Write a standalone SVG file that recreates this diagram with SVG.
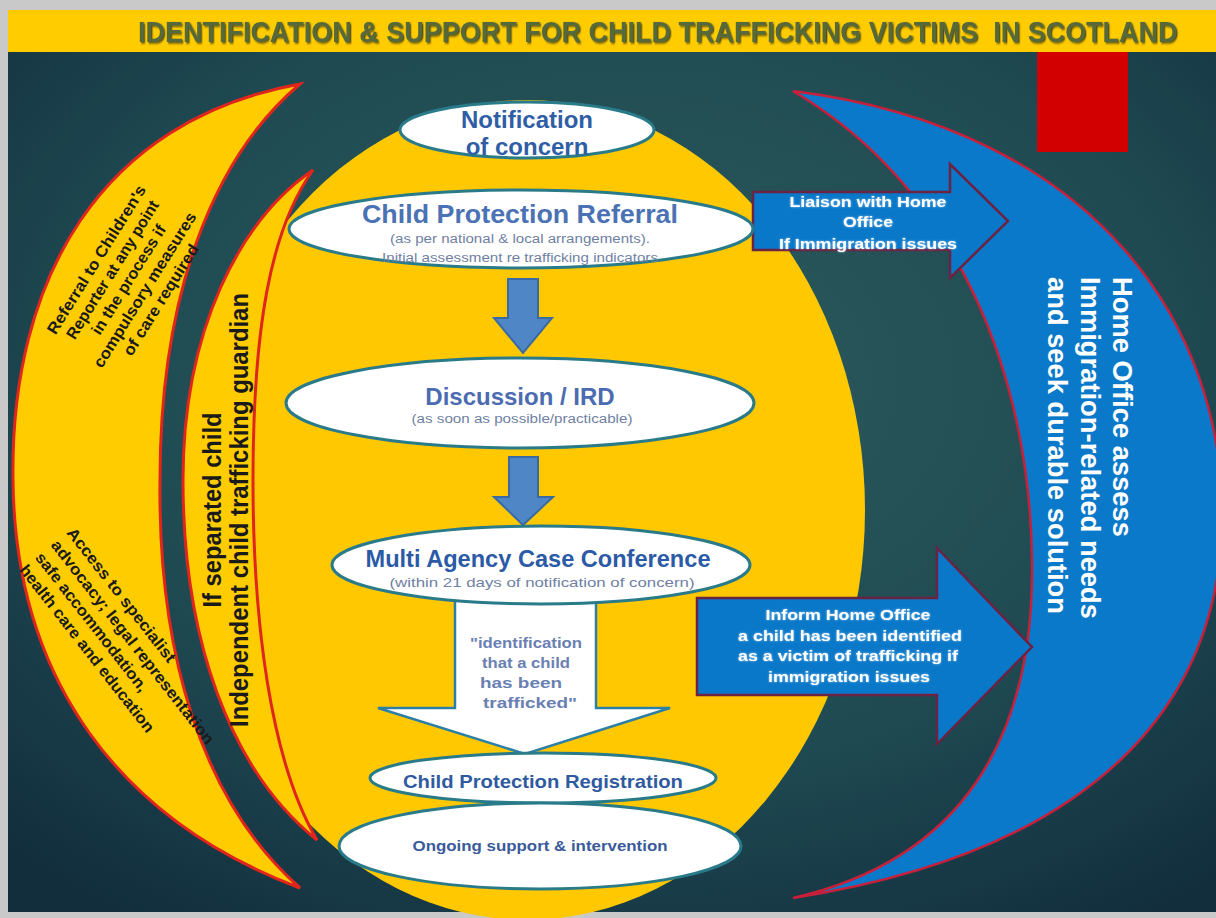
<svg xmlns="http://www.w3.org/2000/svg" width="1216" height="918" viewBox="0 0 1216 918">
<defs>
<radialGradient id="bg" cx="0.52" cy="0.38" r="0.75">
<stop offset="0" stop-color="#2b5b5c"/>
<stop offset="0.6" stop-color="#1f4a52"/>
<stop offset="1" stop-color="#122e3d"/>
</radialGradient>
<filter id="tsh" x="-5%" y="-30%" width="110%" height="160%">
<feDropShadow dx="1.5" dy="1.5" stdDeviation="0.8" flood-color="#2a3318" flood-opacity="0.8"/>
</filter>
<filter id="glow" x="-10%" y="-30%" width="120%" height="160%">
<feDropShadow dx="0" dy="0" stdDeviation="1" flood-color="#cfe6ff" flood-opacity="0.7"/>
</filter>
<style>
.title{font-family:"Liberation Sans",Arial,sans-serif;font-weight:bold;font-size:30px;fill:#56693a}
.node{fill:#ffffff;stroke:#2a7b8a;stroke-width:3}
.crescent{fill:#ffcc00;stroke:#e0261c;stroke-width:3}
.bluecres{fill:#0b79c9;stroke:#c8203a;stroke-width:2.5}
.bigarrow{fill:#0a78c8;stroke:#6a2342;stroke-width:2.5}
.smallarrow{fill:#4f86c6;stroke:#3a6aa3;stroke-width:2}
.whitearrow{fill:#ffffff;stroke:#2c7fa6;stroke-width:2.5}
.h{font-family:"Liberation Sans",Arial,sans-serif;font-weight:bold;text-anchor:middle}
.s{font-family:"Liberation Sans",Arial,sans-serif;text-anchor:middle;fill:#6f7fa3}
.w{font-family:"Liberation Sans",Arial,sans-serif;font-weight:bold;fill:#ffffff}
.k{font-family:"Liberation Sans",Arial,sans-serif;font-weight:bold;fill:#1a1a1a}
</style>
</defs>

<!-- frame -->
<rect x="0" y="0" width="1216" height="918" fill="#c9c9c9"/>
<rect x="8" y="52" width="1208" height="860" fill="url(#bg)"/>
<rect x="8" y="10" width="1208" height="42" fill="#ffcc00"/>
<text class="title" transform="translate(138,42) scale(0.89,1)" x="0" y="0" textLength="1168" lengthAdjust="spacingAndGlyphs" filter="url(#tsh)">IDENTIFICATION &amp; SUPPORT FOR CHILD TRAFFICKING VICTIMS&#160; IN SCOTLAND</text>

<!-- central yellow disc -->
<ellipse cx="527" cy="510" rx="338" ry="410" fill="#ffc800"/>

<!-- left crescents -->
<g id="reporter-crescent">
<path class="crescent" d="M300,84 C100,120 10,280 13,480 C15,680 120,820 300,888 C200,800 158,650 160,480 C160,300 210,160 300,84 Z"/>
<g transform="translate(129,280) rotate(-58)">
<text class="k" text-anchor="middle" x="0" y="-33" font-size="16" textLength="172" lengthAdjust="spacingAndGlyphs">Referral to Children's</text>
<text class="k" text-anchor="middle" x="0" y="-14" font-size="16" textLength="160" lengthAdjust="spacingAndGlyphs">Reporter at any point</text>
<text class="k" text-anchor="middle" x="0" y="5" font-size="16" textLength="126" lengthAdjust="spacingAndGlyphs">in the process if</text>
<text class="k" text-anchor="middle" x="0" y="24" font-size="16" textLength="180" lengthAdjust="spacingAndGlyphs">compulsory measures</text>
<text class="k" text-anchor="middle" x="0" y="43" font-size="16" textLength="128" lengthAdjust="spacingAndGlyphs">of care required</text>
</g>
<g transform="translate(66,533) rotate(52)">
<text class="k" x="0" y="0" font-size="16" textLength="166" lengthAdjust="spacingAndGlyphs">Access to specialist</text>
<text class="k" x="0" y="20" font-size="16" textLength="254" lengthAdjust="spacingAndGlyphs">advocacy; legal representation</text>
<text class="k" x="0" y="40" font-size="16" textLength="172" lengthAdjust="spacingAndGlyphs">safe accommodation,</text>
<text class="k" x="0" y="60" font-size="16" textLength="208" lengthAdjust="spacingAndGlyphs">health care and education</text>
</g>
</g>

<g id="guardian-crescent">
<path class="crescent" d="M313,170 C240,220 183,330 183,480 C183,640 230,770 317,840 C270,760 253,620 253,480 C253,330 270,230 313,170 Z"/>
<text class="k" text-anchor="middle" font-size="25" transform="translate(221,510) rotate(-90)" textLength="195" lengthAdjust="spacingAndGlyphs">If separated child</text>
<text class="k" text-anchor="middle" font-size="25" transform="translate(248,510) rotate(-90)" textLength="434" lengthAdjust="spacingAndGlyphs">Independent child trafficking guardian</text>
</g>

<!-- right crescent -->
<g id="home-office-crescent">
<path class="bluecres" d="M793,91 C1100,130 1225,330 1222,520 C1220,700 1100,850 793,898 C960,860 1035,740 1032,560 C1030,380 960,190 793,91 Z"/>
<text class="w" font-size="27" transform="translate(1113,277) rotate(90)" textLength="260" lengthAdjust="spacingAndGlyphs">Home Office assess</text>
<text class="w" font-size="27" transform="translate(1081,277) rotate(90)" textLength="342" lengthAdjust="spacingAndGlyphs">Immigration-related needs</text>
<text class="w" font-size="27" transform="translate(1048,277) rotate(90)" textLength="337" lengthAdjust="spacingAndGlyphs">and seek durable solution</text>
</g>

<rect x="1037" y="52" width="91" height="100" fill="#d20000"/>

<!-- connectors -->
<g id="connectors">
<polygon class="smallarrow" points="508,279 538,279 538,318 552,318 523,353 494,318 508,318"/>
<polygon class="smallarrow" points="509,457 538,457 538,497 553,497 523,525 494,497 509,497"/>
<polygon class="whitearrow" points="455,598 596,598 596,708 670,708 525,754 378,708 455,708"/>
<g id="liaison-arrow">
<polygon class="bigarrow" points="753,192 950,192 950,164 1008,221 950,278 950,250 753,250"/>
<text class="w" text-anchor="middle" x="868" y="207" font-size="14" textLength="157" lengthAdjust="spacingAndGlyphs" filter="url(#glow)">Liaison with Home</text>
<text class="w" text-anchor="middle" x="868" y="227" font-size="14" textLength="50" lengthAdjust="spacingAndGlyphs" filter="url(#glow)">Office</text>
<text class="w" text-anchor="middle" x="868" y="249" font-size="14" textLength="178" lengthAdjust="spacingAndGlyphs" filter="url(#glow)">If Immigration issues</text>
</g>
<g id="inform-arrow">
<polygon class="bigarrow" points="697,598 937,598 937,548 1032,647 937,744 937,695 697,695"/>
<text class="w" text-anchor="middle" x="848" y="620" font-size="14.5" textLength="165" lengthAdjust="spacingAndGlyphs" filter="url(#glow)">Inform Home Office</text>
<text class="w" text-anchor="middle" x="850" y="641" font-size="14.5" textLength="224" lengthAdjust="spacingAndGlyphs" filter="url(#glow)">a child has been identified</text>
<text class="w" text-anchor="middle" x="848" y="661" font-size="14.5" textLength="220" lengthAdjust="spacingAndGlyphs" filter="url(#glow)">as a victim of trafficking if</text>
<text class="w" text-anchor="middle" x="849" y="682" font-size="14.5" textLength="162" lengthAdjust="spacingAndGlyphs" filter="url(#glow)">immigration issues</text>
</g>
<g fill="#6a80b2">
<text class="h" x="526" y="648" font-size="15" textLength="112" lengthAdjust="spacingAndGlyphs">"identification</text>
<text class="h" x="526" y="668" font-size="15" textLength="88" lengthAdjust="spacingAndGlyphs">that a child</text>
<text class="h" x="521" y="688" font-size="15" textLength="82" lengthAdjust="spacingAndGlyphs">has been</text>
<text class="h" x="530" y="708" font-size="15" textLength="94" lengthAdjust="spacingAndGlyphs">trafficked"</text>
</g>
</g>

<!-- nodes -->
<g id="notification">
<ellipse class="node" cx="527" cy="130" rx="127" ry="28"/>
<text class="h" x="527" y="128" font-size="24" fill="#2f5ea6">Notification</text>
<text class="h" x="527" y="155" font-size="24" fill="#2f5ea6">of concern</text>
</g>

<g id="referral">
<ellipse class="node" cx="521" cy="229" rx="232" ry="39"/>
<text class="h" x="520" y="223" font-size="26" fill="#4a72b5" textLength="316" lengthAdjust="spacingAndGlyphs">Child Protection Referral</text>
<text class="s" x="520" y="243" font-size="12.5" textLength="260" lengthAdjust="spacingAndGlyphs">(as per national &amp; local arrangements).</text>
<text class="s" x="520" y="262" font-size="12.5" textLength="276" lengthAdjust="spacingAndGlyphs">Initial assessment re trafficking indicators</text>
</g>

<g id="discussion">
<ellipse class="node" cx="520" cy="403" rx="234" ry="45"/>
<text class="h" x="520" y="405" font-size="24" fill="#4b6cb0">Discussion / IRD</text>
<text class="s" x="522" y="423" font-size="12.5" textLength="221" lengthAdjust="spacingAndGlyphs">(as soon as possible/practicable)</text>
</g>

<g id="case-conference">
<ellipse class="node" cx="541" cy="565" rx="209" ry="39"/>
<text class="h" x="538" y="567" font-size="23.5" fill="#2b5aa6" textLength="345" lengthAdjust="spacingAndGlyphs">Multi Agency Case Conference</text>
<text class="s" x="542" y="587" font-size="13" fill="#5a6fa0" textLength="305" lengthAdjust="spacingAndGlyphs">(within 21 days of notification of concern)</text>
</g>

<g id="registration">
<ellipse class="node" cx="543" cy="778" rx="173" ry="25"/>
<text class="h" x="543" y="788" font-size="19" fill="#2f5aa0" textLength="280" lengthAdjust="spacingAndGlyphs">Child Protection Registration</text>
</g>

<g id="ongoing">
<ellipse class="node" cx="540" cy="846" rx="201" ry="43"/>
<text class="h" x="540" y="851" font-size="15.5" fill="#3a5a9a" textLength="255" lengthAdjust="spacingAndGlyphs">Ongoing support &amp; intervention</text>
</g>
</svg>
